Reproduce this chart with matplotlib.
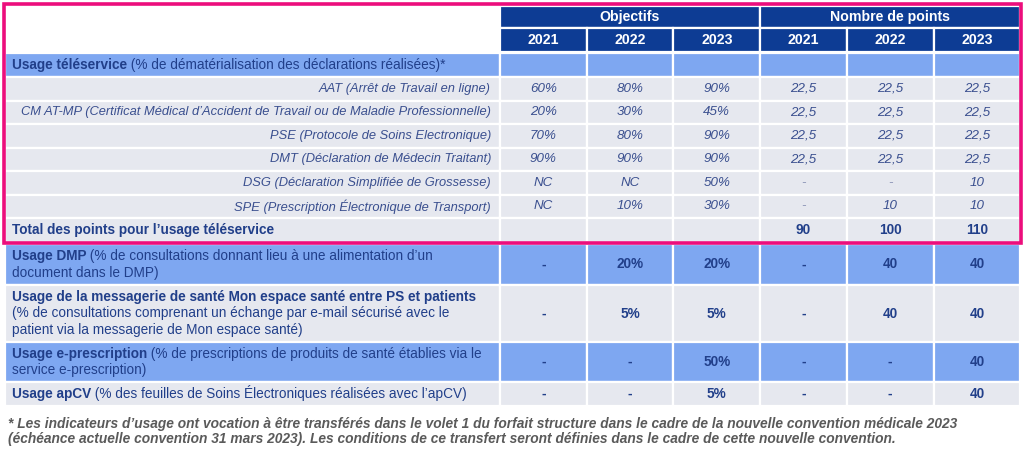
import matplotlib.pyplot as plt
from matplotlib.patches import Rectangle

# données du tableau
years = ["2021", "2022", "2023"]
groups = ["Objectifs", "Nombre de points"]

tele_title = "Usage téléservice"
tele_desc = " (% de dématérialisation des déclarations réalisées)*"
tele_labels = [
    "AAT (Arrêt de Travail en ligne)",
    "CM AT-MP (Certificat Médical d’Accident de Travail ou de Maladie Professionnelle)",
    "PSE (Protocole de Soins Electronique)",
    "DMT (Déclaration de Médecin Traitant)",
    "DSG (Déclaration Simplifiée de Grossesse)",
    "SPE (Prescription Électronique de Transport)",
]
tele_objectifs = [
    ["60%", "80%", "90%"],
    ["20%", "30%", "45%"],
    ["70%", "80%", "90%"],
    ["90%", "90%", "90%"],
    ["NC", "NC", "50%"],
    ["NC", "10%", "30%"],
]
tele_points = [
    ["22,5", "22,5", "22,5"],
    ["22,5", "22,5", "22,5"],
    ["22,5", "22,5", "22,5"],
    ["22,5", "22,5", "22,5"],
    ["-", "-", "10"],
    ["-", "10", "10"],
]
total_label = "Total des points pour l’usage téléservice"
total_points = ["90", "100", "110"]

# autres indicateurs : (partie en gras, suite normale) par ligne
other_labels = [
    [("Usage DMP", " (% de consultations donnant lieu à une alimentation d’un"),
     ("", "document dans le DMP)")],
    [("Usage de la messagerie de santé Mon espace santé entre PS et patients", ""),
     ("", "(% de consultations comprenant un échange par e-mail sécurisé avec le"),
     ("", "patient via la messagerie de Mon espace santé)")],
    [("Usage e-prescription", " (% de prescriptions de produits de santé établies via le"),
     ("", "service e-prescription)")],
    [("Usage apCV", " (% des feuilles de Soins Électroniques réalisées avec l’apCV)")],
]
other_objectifs = [
    ["-", "20%", "20%"],
    ["-", "5%", "5%"],
    ["-", "-", "50%"],
    ["-", "-", "5%"],
]
other_points = [
    ["-", "40", "40"],
    ["-", "40", "40"],
    ["-", "-", "40"],
    ["-", "-", "40"],
]

footnote = ("* Les indicateurs d’usage ont vocation à être transférés dans le volet 1 du forfait "
            "structure dans le cadre de la nouvelle convention médicale 2023\n"
            "(échéance actuelle convention 31 mars 2023). Les conditions de ce transfert seront "
            "définies dans le cadre de cette nouvelle convention.")

# couleurs
dark_blue = "#0D3C94"
light_blue = "#7EA7F1"
grey = "#E6E8EF"
text_blue = "#213F8A"
italic_blue = "#3A4F8F"
pink = "#EC0E7C"

plt.rcParams['font.family'] = ['Liberation Sans', 'DejaVu Sans']
fs = 9.8        # texte principal
fs_it = 9.3     # sous-lignes en italique
fs_head = 10.2  # en-tête

fig = plt.figure(figsize=(10.24, 4.58), dpi=100)
ax = fig.add_axes([0, 0, 1, 1])
ax.set_xlim(0, 1024)
ax.set_ylim(458, 0)
ax.axis('off')

# géométrie (pixels)
x0, x1 = 5, 500
col_w = 86.7
col_x = [x1 + i * col_w for i in range(6)]


def cell(x, y, w, h, color):
    ax.add_patch(Rectangle((x, y), w, h, facecolor=color, edgecolor="white", lw=1.6))


def label_line(x, y, bold, normal, color=text_blue, size=fs):
    t = ax.text(x, y, bold, fontsize=size, fontweight='bold', color=color, va='center', ha='left')
    if normal:
        if bold:
            ax.annotate(normal, xy=(1, 0), xycoords=t, fontsize=size, color=color,
                        va='bottom', ha='left')
        else:
            ax.text(x, y, normal, fontsize=size, color=color, va='center', ha='left')


# en-tête
for g, name in enumerate(groups):
    cell(col_x[3 * g], 6, 3 * col_w, 22, dark_blue)
    ax.text(col_x[3 * g] + 1.5 * col_w, 17, name, color="white", fontsize=fs_head,
            fontweight='bold', ha='center', va='center')
    for j, yr in enumerate(years):
        cell(col_x[3 * g + j], 28, col_w, 24, dark_blue)
        ax.text(col_x[3 * g + j] + col_w / 2, 40, yr, color="white", fontsize=fs_head,
                fontweight='bold', ha='center', va='center')

# ligne téléservice
y = 53
h = 24
cell(x0, y, x1 - x0, h, light_blue)
for j in range(6):
    cell(col_x[j], y, col_w, h, light_blue)
label_line(12, y + h / 2, tele_title, tele_desc)
y += h

# sous-lignes téléservice
h = 23.5
for i, lab in enumerate(tele_labels):
    cell(x0, y, x1 - x0, h, grey)
    ax.text(491, y + h / 2, lab, fontsize=fs_it, fontstyle='italic', color=italic_blue,
            ha='right', va='center')
    vals = tele_objectifs[i] + tele_points[i]
    for j, v in enumerate(vals):
        cell(col_x[j], y, col_w, h, grey)
        c = "#8A93B5" if v == "-" else italic_blue
        ax.text(col_x[j] + col_w / 2, y + h / 2, v, fontsize=fs_it + 0.3, fontstyle='italic',
                color=c, ha='center', va='center')
    y += h

# total
cell(x0, y, x1 - x0, h, grey)
label_line(12, y + h / 2, total_label, "")
for j in range(6):
    cell(col_x[j], y, col_w, h, grey)
for j, v in enumerate(total_points):
    ax.text(col_x[3 + j] + col_w / 2, y + h / 2, v, fontsize=fs, fontweight='bold',
            color=text_blue, ha='center', va='center')
y += h

# cadre rose
ax.add_patch(Rectangle((4, 4), 1017, y - 3, facecolor="none", edgecolor=pink, lw=2.6,
                       zorder=5))

# autres indicateurs
y += 2.5
heights = [41, 57, 40, 24]
fills = [light_blue, grey, light_blue, grey]
line_h = 16.5
for i, lines in enumerate(other_labels):
    h = heights[i]
    cell(x0, y, x1 - x0, h, fills[i])
    ytop = y + h / 2 - (len(lines) - 1) * line_h / 2
    for k, (b, n) in enumerate(lines):
        label_line(12, ytop + k * line_h, b, n)
    vals = other_objectifs[i] + other_points[i]
    for j, v in enumerate(vals):
        cell(col_x[j], y, col_w, h, fills[i])
        ax.text(col_x[j] + col_w / 2, y + h / 2, v, fontsize=fs, fontweight='bold',
                color=text_blue, ha='center', va='center')
    y += h

# note de bas de page
ax.text(8, y + 11, footnote, fontsize=9.9, fontweight='bold', fontstyle='italic',
        color="#5A5A5A", ha='left', va='top', linespacing=1.05)

fig.savefig("out.png", dpi=100, facecolor="white")
